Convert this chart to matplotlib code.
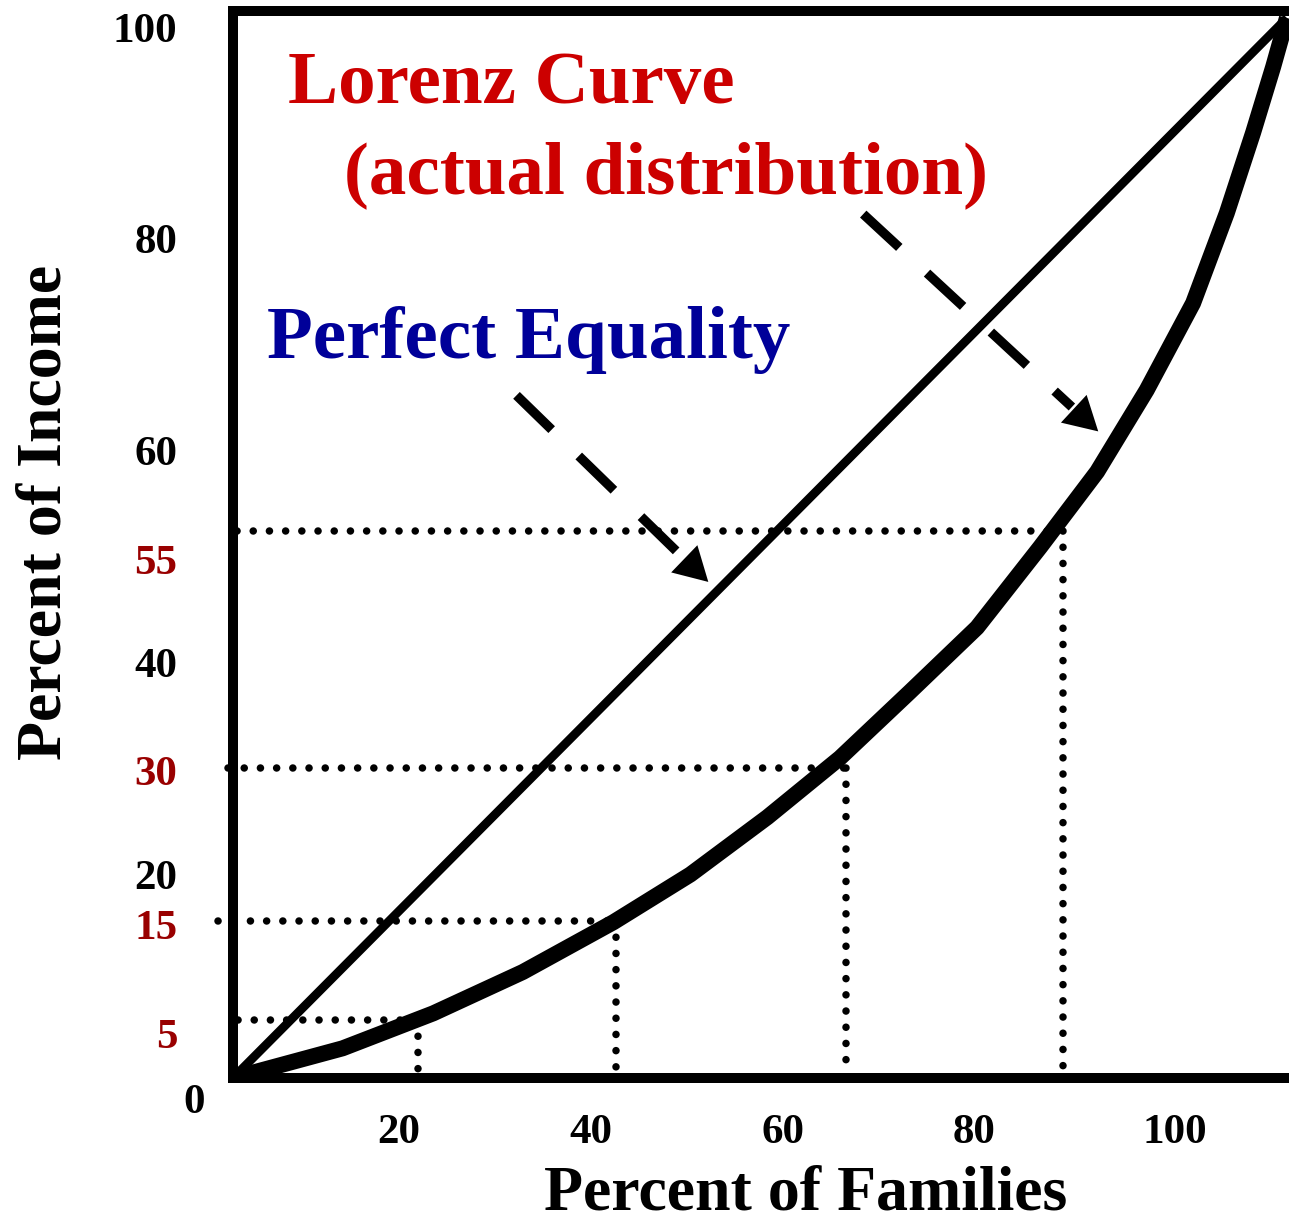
import matplotlib
matplotlib.use("Agg")
import matplotlib.pyplot as plt

# ---------------- data ----------------
# Lorenz curve (actual distribution), in axis-box percent units
families = [0, 10.4, 19.0, 27.5, 36.1, 43.4, 50.7, 57.6, 64.2, 70.6,
            76.6, 82.0, 86.7, 91.1, 94.3, 96.8, 98.7, 100]
income = [0, 2.8, 6.1, 10.0, 14.7, 19.2, 24.6, 30.2, 36.4, 42.5,
          50.1, 57.2, 64.9, 73.1, 81.6, 89.2, 95.4, 100]

# line of perfect equality
equality_x = [0, 100]
equality_y = [0, 100]

# dotted guide points (quintile markers on the Lorenz curve)
guide_families = [17.6, 36.3, 58.2, 78.8]
guide_income = [5.5, 14.8, 29.2, 51.6]

# tick labels
ytick_labels = ["100", "80", "60", "55", "40", "30", "20", "15", "5"]
ytick_is_key = [False, False, False, True, False, True, False, True, True]
xtick_labels = ["20", "40", "60", "80", "100"]
origin_label = "0"

title_lorenz = "Lorenz Curve\n(actual distribution)"
title_equality = "Perfect Equality"
xlabel = "Percent of Families"
ylabel = "Percent of Income"

# ---------------- layout / style ----------------
W, H, DPI = 1289, 1222, 100
ytick_pos = [99.1, 79.2, 59.2, 48.9, 39.2, 29.0, 19.2, 14.5, 4.2]
xtick_pos = [15.7, 34.0, 52.2, 70.3, 89.4]
guide_h_start = [0.5, -1.4, -0.5, 0.4]

RED = "#cc0000"
DARKRED = "#990000"
BLUE = "#000099"
FONT = "Liberation Serif"

plt.rcParams["font.family"] = [FONT, "DejaVu Serif"]
plt.rcParams["font.weight"] = "bold"

fig = plt.figure(figsize=(W / DPI, H / DPI), dpi=DPI)
left_px, right_px, top_px, bottom_px = 233, 1289, 11, 1078
ax = fig.add_axes([left_px / W, (H - bottom_px) / H,
                   (right_px - left_px) / W, (bottom_px - top_px) / H])
ax.set_xlim(0, 100.2)
ax.set_ylim(0, 100.66)

for side in ["left", "bottom", "top"]:
    ax.spines[side].set_linewidth(7.2)
    ax.spines[side].set_capstyle("projecting")
    ax.spines[side].set_zorder(4)
ax.spines["right"].set_visible(False)

# guides (dotted)
dot_style = dict(color="black", lw=5.4, linestyle=(0, (0.01, 2.15)),
                 dash_capstyle="round", clip_on=False, zorder=2)
for gx, gy, hs in zip(guide_families, guide_income, guide_h_start):
    ax.plot([hs, gx], [gy, gy], **dot_style)
    ax.plot([gx, gx], [gy, 0.6], **dot_style)

# perfect equality line
ax.plot(equality_x, equality_y, color="black", lw=6.3, solid_capstyle="butt", zorder=3)
# Lorenz curve
ax.plot(families, income, color="black", lw=11.5, solid_joinstyle="round",
        solid_capstyle="butt", zorder=3)

# dashed arrows
def dashed_arrow(start, base, tip):
    ax.plot([start[0], base[0]], [start[1], base[1]], color="black", lw=6.8,
            linestyle=(0, (5.2, 4.0)), dash_capstyle="butt", zorder=3)
    ax.annotate("", xy=tip, xytext=base,
                arrowprops=dict(arrowstyle="-|>,head_length=1.2,head_width=0.68",
                                mutation_scale=20, lw=0, color="black",
                                shrinkA=0, shrinkB=0), zorder=3)

dashed_arrow((26.9, 64.4), (42.8, 49.0), (45.1, 46.8))
dashed_arrow((59.8, 81.5), (79.6, 63.3), (82.1, 61.0))

# ticks
ax.set_yticks(ytick_pos, ytick_labels)
ax.set_xticks(xtick_pos, xtick_labels)
ax.tick_params(axis="y", length=0, pad=40, labelsize=31)
ax.tick_params(axis="x", length=0, pad=26, labelsize=31)
for lab, key in zip(ax.get_yticklabels(), ytick_is_key):
    lab.set_fontweight("bold")
    lab.set_color(DARKRED if key else "black")
for lab in ax.get_xticklabels():
    lab.set_fontweight("bold")
ax.text(-2.66, -1.98, origin_label, ha="right", va="center_baseline",
        fontsize=31, fontweight="bold", clip_on=False)

# annotations
line1, line2 = title_lorenz.split("\n")
ax.text(26.4, 92.0, line1, ha="center", va="baseline", fontsize=54,
        fontweight="bold", color=RED)
ax.text(41.1, 83.5, line2, ha="center", va="baseline", fontsize=54,
        fontweight="bold", color=RED)
ax.text(28.1, 67.9, title_equality, ha="center", va="baseline", fontsize=54,
        fontweight="bold", color=BLUE)

# axis titles
ax.text(54.3, -12.45, xlabel, ha="center", va="baseline", fontsize=46,
        fontweight="bold", clip_on=False)
ax.text(-16.4, 53.4, ylabel, ha="center", va="baseline", fontsize=46,
        fontweight="bold", rotation=90, rotation_mode="anchor", clip_on=False)

fig.savefig("out.png", dpi=DPI)
